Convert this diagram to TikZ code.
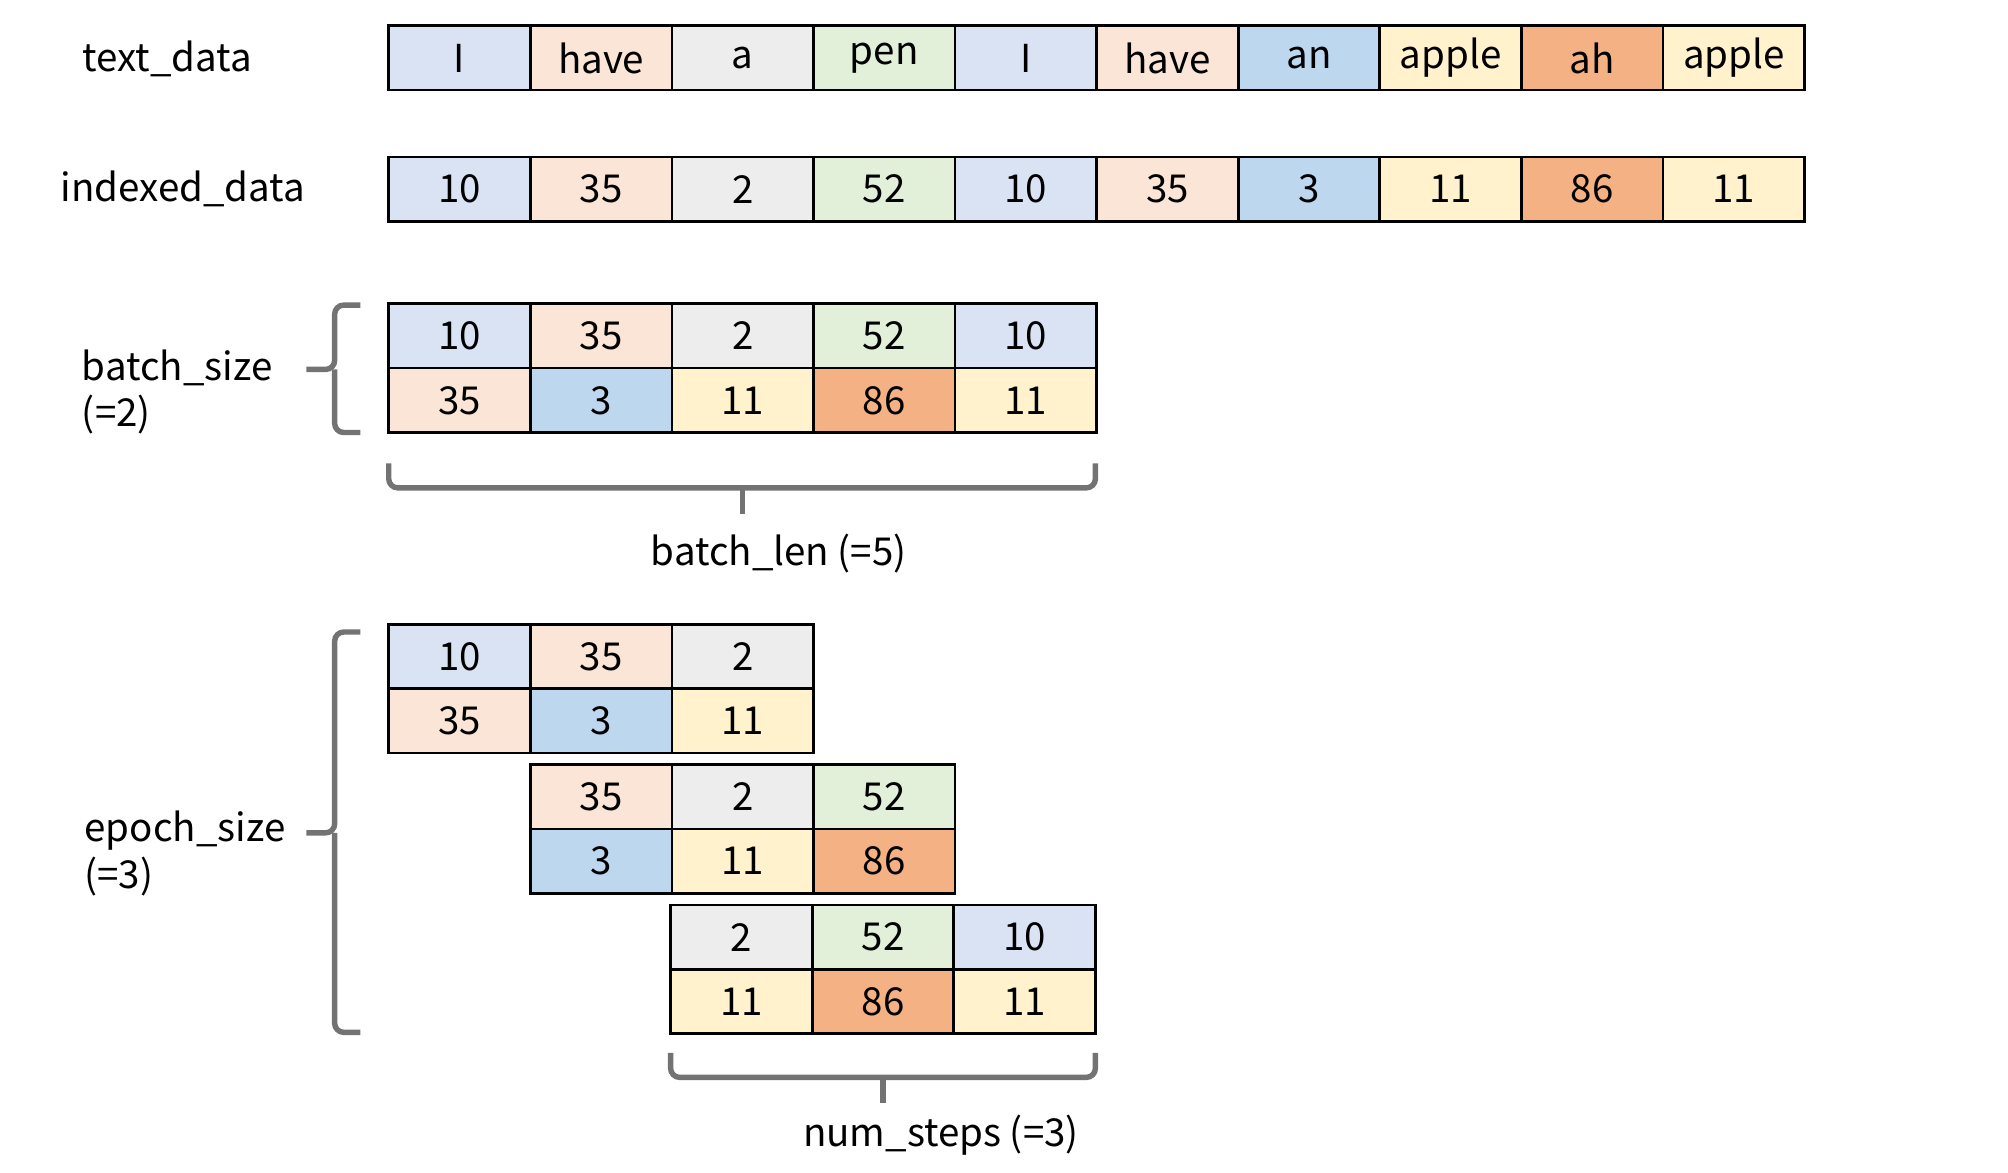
\documentclass[tikz,border=0pt]{standalone}
\usepackage{fontspec}
\setmainfont{Noto Sans CJK JP}
\definecolor{cBlueL}{HTML}{DAE3F3}
\definecolor{cPeach}{HTML}{FBE5D6}
\definecolor{cGray}{HTML}{EDEDED}
\definecolor{cGreen}{HTML}{E2F0D9}
\definecolor{cBlue}{HTML}{BDD7EE}
\definecolor{cYellow}{HTML}{FFF2CC}
\definecolor{cOrange}{HTML}{F4B183}
\tikzset{
  cell/.style={draw=black, line width=0.6pt, minimum width=1.1cm, minimum height=0.5cm,
    inner sep=0pt, font=\fontsize{8.5}{10}\selectfont},
  lbl/.style={font=\fontsize{8.5}{10}\selectfont, inner sep=0pt},
  brace/.style={draw=black!55, line width=1.2pt, rounded corners=2pt}
}
\begin{document}
\begin{tikzpicture}[x=0.01cm, y=-0.01cm]
	\useasboundingbox (0,0) rectangle (1560,911);
	% text row and index row
	\foreach \t/\v/\c [count=\i from 0] in {I/10/cBlueL, have/35/cPeach, a/2/cGray, pen/52/cGreen,
	    I/10/cBlueL, have/35/cPeach, an/3/cBlue, apple/11/cYellow, ah/86/cOrange, apple/11/cYellow} {
		\node[cell, fill=\c] (t\i) at (357+110*\i, 45) {\t};
		\node[cell, fill=\c] (x\i) at (357+110*\i, 147) {\v};
	}
	\node[lbl] (tlabel) at (130,46) {text\_data};
	\node[lbl] (xlabel) at (142,147) {indexed\_data};
	% one batch
	\foreach \a/\ca/\b/\cb [count=\i from 0] in {10/cBlueL/35/cPeach, 35/cPeach/3/cBlue,
	    2/cGray/11/cYellow, 52/cGreen/86/cOrange, 10/cBlueL/11/cYellow} {
		\node[cell, fill=\ca] (ba\i) at (357+110*\i, 261) {\a};
		\node[cell, fill=\cb] (bb\i) at (357+110*\i, 311) {\b};
	}
	\draw[brace] (280,237) -- (260,237) -- (260,287) -- (238,287);
	\draw[brace] (260,287) -- (260,336) -- (280,336);
	\node[lbl, anchor=west] (bsize) at (63,286) {batch\_size};
	\node[lbl, anchor=west] (bsizev) at (63,322) {(=2)};
	\draw[brace] (302,360) -- (302,379) -- (851,379) -- (851,360);
	\draw[brace] (577,379) -- (577,399);
	\node[lbl] (blen) at (605,430) {batch\_len (=5)};
	% epoch
	\foreach \x/\y/\a/\ca/\b/\cb/\m in {
	    357/510/10/cBlueL/35/cPeach/e, 467/510/35/cPeach/3/cBlue/e, 577/510/2/cGray/11/cYellow/e,
	    467/619/35/cPeach/3/cBlue/f, 577/619/2/cGray/11/cYellow/f, 687/619/52/cGreen/86/cOrange/f,
	    576/728/2/cGray/11/cYellow/g, 686/728/52/cGreen/86/cOrange/g, 796/728/10/cBlueL/11/cYellow/g} {
		\node[cell, fill=\ca] (\m a\x) at (\x,\y) {\a};
		\node[cell, fill=\cb] (\m b\x) at (\x,\y+50) {\b};
	}
	\draw[brace] (280,491) -- (260,491) -- (260,647) -- (238,647);
	\draw[brace] (260,647) -- (260,802) -- (280,802);
	\node[lbl, anchor=west] (esize) at (65,645) {epoch\_size};
	\node[lbl, anchor=west] (esizev) at (65,681) {(=3)};
	\draw[brace] (521,818) -- (521,837) -- (851,837) -- (851,818);
	\draw[brace] (686,837) -- (686,857);
	\node[lbl] (nsteps) at (731,882) {num\_steps (=3)};
\end{tikzpicture}
\end{document}
